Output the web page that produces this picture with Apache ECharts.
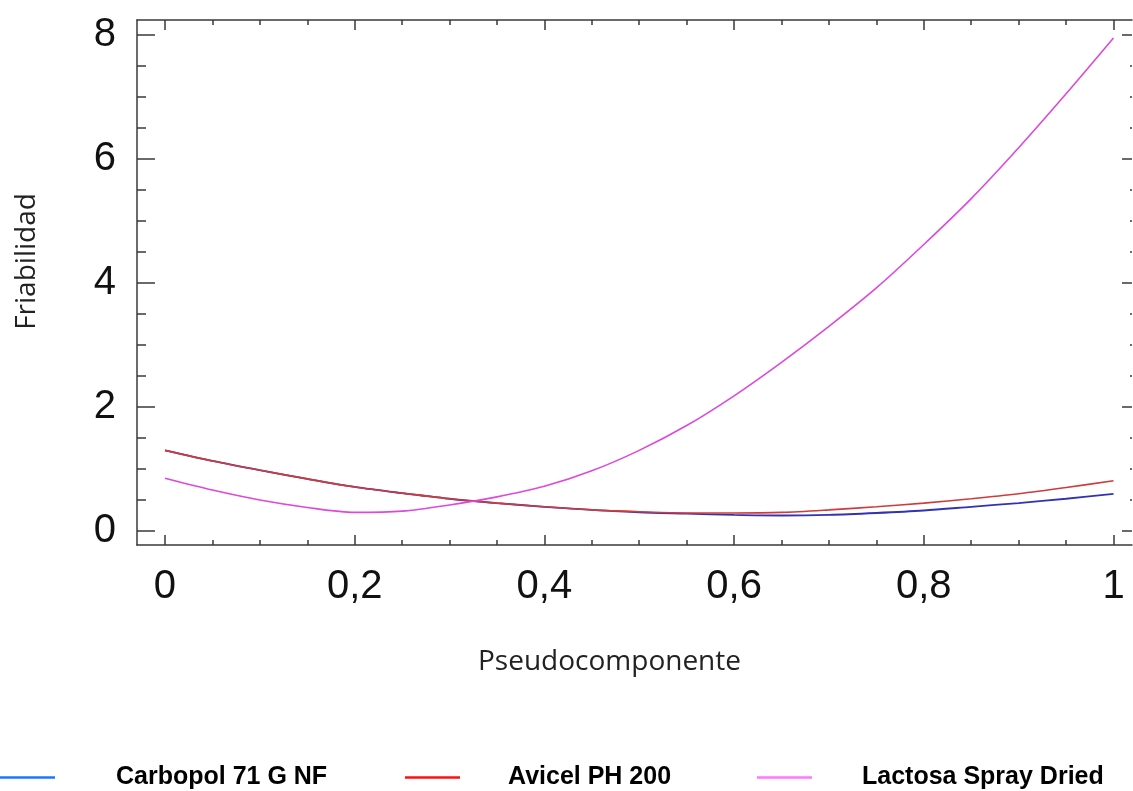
<!DOCTYPE html>
<html>
<head>
<meta charset="utf-8">
<script src="https://cdn.jsdelivr.net/npm/echarts@6/dist/echarts.min.js"></script>
<style>
html,body{margin:0;padding:0;background:#fff;}
#c{width:1133px;height:791px;}
</style>
</head>
<body>
<div id="c"></div>
<script>
const xValues = [0,0.05,0.1,0.15,0.2,0.25,0.3,0.35,0.4,0.45,0.5,0.55,0.6,0.65,0.7,0.75,0.8,0.85,0.9,0.95,1];
const carbopol = [1.30,1.13,0.98,0.84,0.71,0.61,0.52,0.45,0.39,0.34,0.30,0.28,0.26,0.25,0.26,0.29,0.33,0.39,0.45,0.52,0.60];
const avicel   = [1.30,1.13,0.98,0.84,0.71,0.61,0.52,0.45,0.39,0.34,0.31,0.29,0.29,0.30,0.34,0.39,0.45,0.52,0.60,0.70,0.81];
const lactosa  = [0.85,0.66,0.50,0.38,0.30,0.32,0.42,0.55,0.72,0.97,1.30,1.70,2.18,2.72,3.30,3.92,4.62,5.36,6.18,7.05,7.95];
const seriesNames = ['Carbopol 71 G NF','Avicel PH 200','Lactosa Spray Dried'];
const xMajor = [0,0.2,0.4,0.6,0.8,1];
const xMinor = [0.05,0.1,0.15,0.25,0.3,0.35,0.45,0.5,0.55,0.65,0.7,0.75,0.85,0.9,0.95];
const yMajor = [0,2,4,6,8];
const yMinor = [0.5,1,1.5,2.5,3,3.5,4.5,5,5.5,6.5,7,7.5];

const toPairs = v => xValues.map((x,i)=>[x,v[i]]);
const axisColor = '#3a3a3a';
const X_MIN = -0.0295, X_MAX = 1.0195, Y_MIN = -0.226, Y_MAX = 8.24;

function xAx(pos, ticks, len, labels, line){
  return {
    type:'value', position:pos, min:X_MIN, max:X_MAX,
    axisLine:{show:line, onZero:false, lineStyle:{color:axisColor, width:1.5}},
    axisTick:{show:true, inside:true, length:len, customValues:ticks, lineStyle:{color:axisColor, width:1.5}},
    axisLabel:{show:labels, customValues:labels?ticks:undefined, margin:22,
      fontFamily:'Liberation Sans, Arial, sans-serif', fontSize:40, color:'#111',
      formatter: v => String(v).replace('.', ',')},
    splitLine:{show:false}
  };
}
function yAx(pos, ticks, len, labels, line){
  return {
    type:'value', position:pos, min:Y_MIN, max:Y_MAX,
    axisLine:{show:line, onZero:false, lineStyle:{color:axisColor, width:1.5}},
    axisTick:{show:true, inside:true, length:len, customValues:ticks, lineStyle:{color:axisColor, width:1.5}},
    axisLabel:{show:labels, customValues:labels?ticks:undefined, margin:21,
      fontFamily:'Liberation Sans, Arial, sans-serif', fontSize:40, color:'#111'},
    splitLine:{show:false}
  };
}

const xAxes = [
  xAx('bottom', xMajor, 10, true, true),
  xAx('bottom', xMinor, 5, false, false),
  xAx('top', xMajor, 10, false, true),
  xAx('top', xMinor, 5, false, false)
];
Object.assign(xAxes[0], {
  name:'Pseudocomponente', nameLocation:'middle', nameGap:103,
  nameTextStyle:{fontFamily:'Open Sans, sans-serif', fontSize:28, color:'#222', padding:[0,50,0,0]}
});
const yAxes = [
  yAx('left', yMajor, 18, true, true),
  yAx('left', yMinor, 9, false, false),
  yAx('right', yMajor, 10, false, false),
  yAx('right', yMinor, 2, false, false)
];
Object.assign(yAxes[0], {
  name:'Friabilidad', nameLocation:'middle', nameGap:96,
  nameTextStyle:{fontFamily:'Open Sans, sans-serif', fontSize:28, color:'#222', padding:[0,0,0,42]}
});

const legendFont = {fontFamily:'Liberation Sans, Arial, sans-serif', fontSize:25, fontWeight:'bold', color:'#000'};
function leg(name, color, left, pad){
  return {
    show:true, left:left, top:765, padding:0, icon:'rect', itemWidth:55, itemHeight:2.5,
    data:[{name:name, itemStyle:{color:color}}],
    textStyle:Object.assign({padding:[0,0,0,pad]}, legendFont),
    selectedMode:false
  };
}

const chart = echarts.init(document.getElementById('c'), null, {renderer:'canvas'});
chart.setOption({
  backgroundColor:'#fff',
  animation:false,
  grid:{left:137, right:1, top:20, height:525, containLabel:false},
  xAxis: xAxes,
  yAxis: yAxes,
  legend:[
    leg(seriesNames[0], '#1a78ff', 0, 56),
    leg(seriesNames[1], '#ff1010', 405, 43),
    leg(seriesNames[2], '#ff77ff', 757, 45)
  ],
  series:[
    {name:seriesNames[0], type:'line', data:toPairs(carbopol), smooth:0.3, showSymbol:false,
     lineStyle:{color:'#3232b4', width:1.8}, itemStyle:{color:'#3232b4'}, z:2},
    {name:seriesNames[1], type:'line', data:toPairs(avicel), smooth:0.3, showSymbol:false,
     lineStyle:{color:'#d03a3a', width:1.6}, itemStyle:{color:'#d03a3a'}, z:3},
    {name:seriesNames[2], type:'line', data:toPairs(lactosa), smooth:0.3, showSymbol:false,
     lineStyle:{color:'#dd48dd', width:1.6}, itemStyle:{color:'#dd48dd'}, z:4}
  ]
});
</script>
</body>
</html>
